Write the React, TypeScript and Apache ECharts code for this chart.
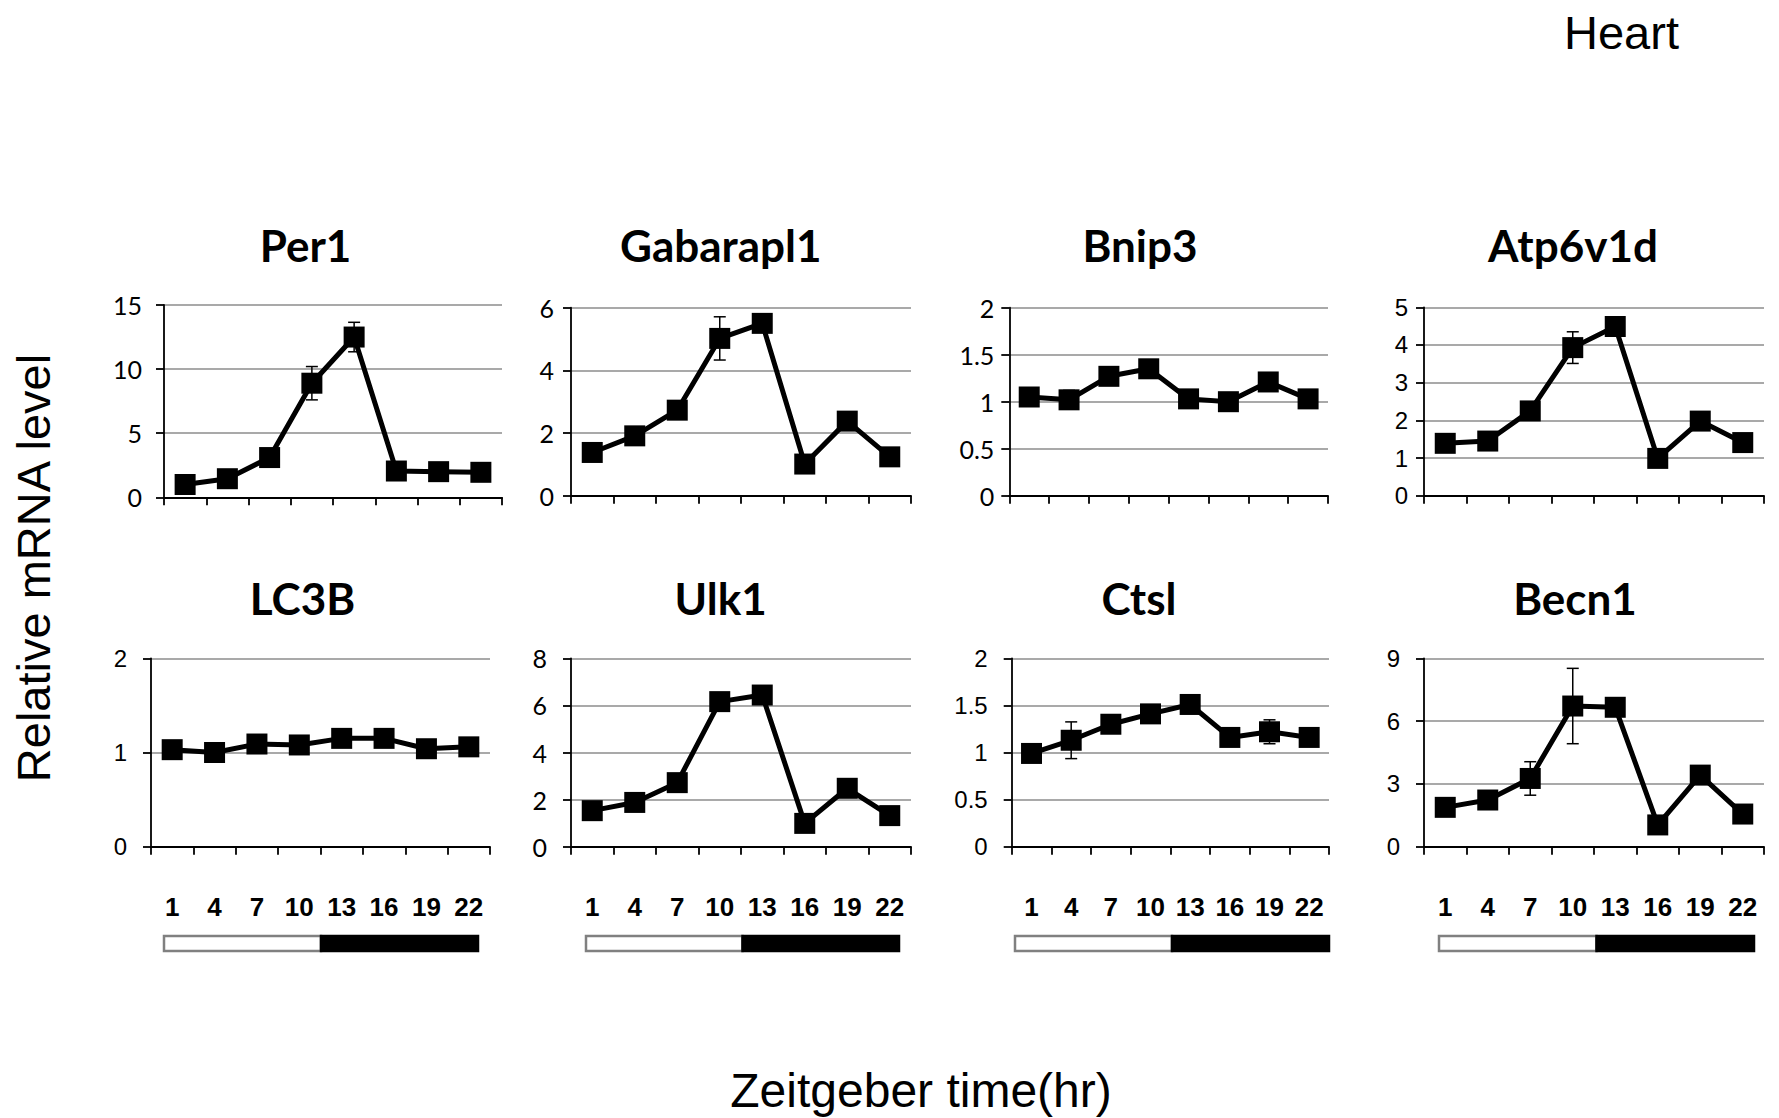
import React, { useEffect, useRef } from "react";
import * as echarts from "echarts";

// ---------- data ----------
const hours = ["1", "4", "7", "10", "13", "16", "19", "22"];
const genes = ["Per1", "Gabarapl1", "Bnip3", "Atp6v1d", "LC3B", "Ulk1", "Ctsl", "Becn1"];

const per1 = [1.0, 1.45, 3.1, 8.9, 12.5, 2.05, 2.0, 1.95];
const per1Err = [0.15, 0.2, 0.3, 1.3, 1.15, 0.2, 0.15, 0.15];
const gabarapl1 = [1.38, 1.91, 2.73, 5.02, 5.5, 1.01, 2.38, 1.24];
const gabarapl1Err = [0.08, 0.12, 0.1, 0.69, 0.1, 0.08, 0.1, 0.08];
const bnip3 = [1.05, 1.02, 1.27, 1.35, 1.03, 1.0, 1.21, 1.03];
const bnip3Err = [0.03, 0.1, 0.04, 0.04, 0.03, 0.03, 0.04, 0.03];
const atp6v1d = [1.39, 1.45, 2.25, 3.93, 4.49, 0.99, 1.98, 1.41];
const atp6v1dErr = [0.06, 0.15, 0.1, 0.42, 0.08, 0.06, 0.08, 0.06];
const lc3b = [1.03, 1.0, 1.09, 1.08, 1.15, 1.15, 1.04, 1.06];
const lc3bErr = [0.03, 0.06, 0.03, 0.03, 0.03, 0.03, 0.03, 0.03];
const ulk1 = [1.53, 1.88, 2.72, 6.16, 6.44, 0.99, 2.48, 1.32];
const ulk1Err = [0.1, 0.1, 0.15, 0.35, 0.15, 0.08, 0.1, 0.08];
const ctsl = [0.99, 1.13, 1.3, 1.41, 1.51, 1.16, 1.22, 1.16];
const ctslErr = [0.03, 0.195, 0.04, 0.04, 0.04, 0.04, 0.127, 0.04];
const becn1 = [1.88, 2.23, 3.26, 6.72, 6.66, 1.04, 3.42, 1.56];
const becn1Err = [0.1, 0.15, 0.8, 1.8, 0.15, 0.1, 0.15, 0.1];

const seriesValues = [per1, gabarapl1, bnip3, atp6v1d, lc3b, ulk1, ctsl, becn1];
const seriesErrors = [per1Err, gabarapl1Err, bnip3Err, atp6v1dErr, lc3bErr, ulk1Err, ctslErr, becn1Err];

const yMax = [15, 6, 2, 5, 2, 8, 2, 9];
const yStep = [5, 2, 0.5, 1, 1, 2, 0.5, 3];

// light / dark phases (hours)
const lightDark = [
  [0, 12, 0],
  [12, 24, 1],
];

// ---------- layout ----------
const CALIBRI = "Lato, Carlito, sans-serif";
const ARIAL = "'Liberation Sans', Arial, sans-serif";

const panels = [
  { l: 164, r: 502, t: 305, b: 497.3, tx: 305.5, ty: 245, font: CALIBRI, fs: 25, gap: 22 },
  { l: 571, r: 911, t: 307.7, b: 495.7, tx: 720.7, ty: 245, font: CALIBRI, fs: 25, gap: 17 },
  { l: 1009.3, r: 1328, t: 307.7, b: 495.7, tx: 1140, ty: 245, font: CALIBRI, fs: 25, gap: 15 },
  { l: 1424, r: 1764, t: 307.3, b: 495.7, tx: 1573, ty: 245, font: ARIAL, fs: 24, gap: 16 },
  { l: 151, r: 490, t: 658.3, b: 846.7, tx: 302.5, ty: 597.5, font: ARIAL, fs: 24, gap: 24 },
  { l: 571, r: 911, t: 658.3, b: 846.7, tx: 720.7, ty: 597.5, font: CALIBRI, fs: 25, gap: 24 },
  { l: 1011.7, r: 1329, t: 658.3, b: 846.7, tx: 1139, ty: 597.5, font: ARIAL, fs: 24, gap: 24 },
  { l: 1424, r: 1764, t: 658.3, b: 846.7, tx: 1575, ty: 597.5, font: ARIAL, fs: 24, gap: 24 },
];

const phaseBars = [
  { l: 164, r: 478 },
  { l: 586, r: 899 },
  { l: 1015, r: 1329 },
  { l: 1439, r: 1754 },
];

function errItem(params: any, api: any) {
  const i = api.value(0);
  const v = api.value(1);
  const e = api.value(2);
  const hi = api.coord([i, v + e]);
  const lo = api.coord([i, v - e]);
  const w = 6;
  const st = { stroke: "#000", lineWidth: 1.5 };
  return {
    type: "group",
    children: [
      { type: "line", shape: { x1: hi[0], y1: hi[1], x2: lo[0], y2: lo[1] }, style: st },
      { type: "line", shape: { x1: hi[0] - w, y1: hi[1], x2: hi[0] + w, y2: hi[1] }, style: st },
      { type: "line", shape: { x1: lo[0] - w, y1: lo[1], x2: lo[0] + w, y2: lo[1] }, style: st },
    ],
  };
}

function phaseItem(params: any, api: any) {
  const s = api.coord([api.value(0), 1]);
  const e = api.coord([api.value(1), 0]);
  const dark = api.value(2) === 1;
  return {
    type: "rect",
    shape: { x: s[0], y: s[1], width: e[0] - s[0], height: e[1] - s[1] },
    style: {
      fill: dark ? "#000" : "#fff",
      stroke: dark ? "#000" : "#808080",
      lineWidth: 2.5,
    },
  };
}

function buildOption() {
  const grid: any[] = [];
  const xAxis: any[] = [];
  const yAxis: any[] = [];
  const series: any[] = [];
  const graphic: any[] = [];

  panels.forEach((p, i) => {
    const bottomRow = i >= 4;
    grid.push({ left: p.l, top: p.t, width: p.r - p.l, height: p.b - p.t, containLabel: false });
    xAxis.push({
      type: "category",
      gridIndex: i,
      data: hours,
      boundaryGap: true,
      axisLine: { show: true, lineStyle: { color: "#000", width: 1.8 } },
      axisTick: { show: true, inside: false, length: 8, alignWithLabel: false, lineStyle: { color: "#000", width: 1.8 } },
      axisLabel: bottomRow
        ? { show: true, interval: 0, margin: 47, color: "#000", fontFamily: ARIAL, fontWeight: "bold", fontSize: 26 }
        : { show: false },
      splitLine: { show: false },
    });
    yAxis.push({
      type: "value",
      gridIndex: i,
      min: 0,
      max: yMax[i],
      interval: yStep[i],
      axisLine: { show: true, lineStyle: { color: "#000", width: 1.8 } },
      axisTick: { show: true, inside: false, length: 8, lineStyle: { color: "#000", width: 1.8 } },
      axisLabel: { show: true, margin: p.gap, color: "#000", fontFamily: p.font, fontSize: p.fs },
      splitLine: { show: true, lineStyle: { color: "#8c8c8c", width: 1.5 } },
    });
    series.push({
      type: "custom",
      name: genes[i] + " SE",
      xAxisIndex: i,
      yAxisIndex: i,
      z: 2,
      encode: { x: 0, y: 1 },
      data: seriesValues[i].map((v, k) => [k, v, seriesErrors[i][k]]),
      renderItem: errItem,
      silent: true,
    });
    series.push({
      type: "line",
      name: genes[i],
      xAxisIndex: i,
      yAxisIndex: i,
      z: 3,
      data: seriesValues[i],
      symbol: "rect",
      symbolSize: 21,
      showSymbol: true,
      lineStyle: { color: "#000", width: 5 },
      itemStyle: { color: "#000", borderWidth: 0 },
    });
    graphic.push({
      type: "text",
      x: p.tx,
      y: p.ty,
      style: {
        text: genes[i],
        font: `bold 44px ${CALIBRI}`,
        fill: "#000",
        align: "center",
        verticalAlign: "middle",
      },
    });
  });

  phaseBars.forEach((b, j) => {
    const gi = panels.length + j;
    grid.push({ left: b.l, top: 936, width: b.r - b.l, height: 15, containLabel: false });
    xAxis.push({ type: "value", gridIndex: gi, min: 0, max: 24, show: false });
    yAxis.push({ type: "value", gridIndex: gi, min: 0, max: 1, show: false });
    series.push({
      type: "custom",
      name: "light/dark " + j,
      xAxisIndex: gi,
      yAxisIndex: gi,
      encode: { x: [0, 1], y: 2 },
      data: lightDark,
      renderItem: phaseItem,
      silent: true,
    });
  });

  graphic.push({
    type: "text",
    x: 1621.5,
    y: 32,
    style: { text: "Heart", font: `47px ${ARIAL}`, fill: "#000", align: "center", verticalAlign: "middle" },
  });
  graphic.push({
    type: "text",
    x: 33,
    y: 568,
    rotation: Math.PI / 2,
    style: {
      text: "Relative mRNA level",
      font: `47px ${ARIAL}`,
      fill: "#000",
      align: "center",
      verticalAlign: "middle",
    },
  });
  graphic.push({
    type: "text",
    x: 921,
    y: 1090,
    style: {
      text: "Zeitgeber time(hr)",
      font: `48px ${ARIAL}`,
      fill: "#000",
      align: "center",
      verticalAlign: "middle",
    },
  });

  return {
    animation: false,
    backgroundColor: "#fff",
    grid,
    xAxis,
    yAxis,
    series,
    graphic,
  };
}

export default function App() {
  const ref = useRef<HTMLDivElement>(null);
  useEffect(() => {
    if (!ref.current) return;
    const chart = echarts.init(ref.current, undefined, { renderer: "svg" });
    chart.setOption(buildOption() as any);
    return () => {
      chart.dispose();
    };
  }, []);
  return (
    <div
      ref={ref}
      style={{ position: "fixed", left: 0, top: 0, width: 1779, height: 1118, background: "#fff" }}
    />
  );
}
